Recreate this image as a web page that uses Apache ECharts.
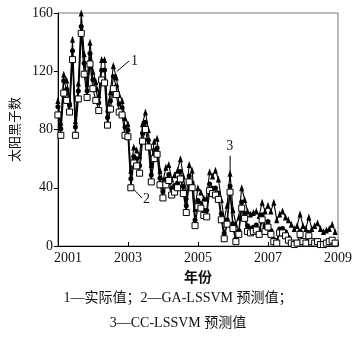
<!DOCTYPE html>
<html>
<head>
<meta charset="utf-8">
<script src="https://cdn.jsdelivr.net/npm/echarts@6/dist/echarts.min.js"></script>
<style>
html,body{margin:0;padding:0;background:#fff;}
#canvas_main{width:356px;height:339px;}
</style>
</head>
<body>
<div id="canvas_main"></div>
<script>
// monthly values, Jan 2001 .. Dec 2008
var startYear = 2001;
var yearTicks = [2001, 2003, 2005, 2007, 2009];

var actual = [
	95.6, 80.6, 113.5, 107.7, 96.6, 134.0, 81.8, 106.4, 150.7, 125.5, 106.5, 132.2,
	114.1, 107.4, 98.4, 120.7, 120.8, 88.3, 99.6, 116.4, 109.6, 97.5, 95.0, 81.6,
	79.5, 46.2, 61.5, 60.0, 55.2, 77.4, 85.0, 72.7, 48.8, 65.5, 67.3, 46.5,
	37.3, 45.8, 49.1, 39.3, 41.5, 43.2, 51.1, 40.9, 27.7, 48.0, 43.5, 17.9,
	31.3, 29.2, 24.5, 24.4, 42.6, 39.6, 39.9, 36.4, 22.1, 8.5, 18.0, 41.2,
	15.3, 4.9, 10.6, 30.2, 22.3, 13.9, 12.2, 12.9, 14.4, 10.5, 21.4, 13.6,
	16.8, 10.7, 4.5, 3.4, 11.7, 12.1, 9.7, 6.0, 2.4, 0.9, 1.7, 10.1,
	3.3, 2.1, 9.3, 2.9, 3.2, 3.4, 0.8, 0.5, 1.1, 2.9, 4.1, 0.8
];
var gaLssvm = [
	90, 76, 105, 100, 92, 128, 76, 101, 146, 118, 102, 125,
	108, 100, 93, 114, 112, 83, 94, 108, 104, 92, 90, 76,
	75, 40, 57, 55, 50, 72, 80, 68, 44, 60, 63, 42,
	33, 42, 45, 35, 37, 40, 46, 36, 23, 44, 40, 14,
	27, 26, 21, 20, 38, 36, 35, 32, 18, 5, 15, 37,
	12, 3, 8, 26, 19, 10, 9, 10, 11, 8, 18, 10,
	13, 8, 3, 2, 9, 9, 7, 4, 2, 1, 2, 8,
	3, 2, 7, 3, 2, 3, 1, 1, 2, 3, 4, 2
];
var ccLssvm = [
	100, 85, 118, 114, 100, 142, 86, 112, 160, 132, 112, 140,
	120, 113, 104, 128, 128, 94, 106, 124, 116, 104, 100, 88,
	84, 52, 68, 66, 62, 84, 92, 80, 56, 72, 74, 52,
	44, 54, 56, 46, 49, 52, 60, 48, 34, 56, 52, 26,
	40, 37, 33, 33, 51, 48, 52, 46, 32, 18, 28, 50,
	25, 15, 20, 40, 32, 24, 22, 23, 24, 21, 30, 24,
	28, 24, 30, 18, 22, 24, 20, 18, 15, 12, 14, 22,
	14, 12, 20, 12, 14, 16, 12, 10, 11, 12, 15, 10
];

function toPoints(arr){
	var pts = [];
	for (var i = 0; i < arr.length; i++) {
		pts.push([startYear + i / 12, arr[i]]);
	}
	return pts;
}

var myChart = echarts.init(document.getElementById('canvas_main'));
var serif = '"Liberation Serif", "Times New Roman", serif';
var cjk = '"Noto Sans CJK SC", sans-serif';
var mixed = '"Liberation Serif", "Noto Sans CJK SC", serif';

var option = {
	animation: false,
	grid: {
		left: 52, right: 18, top: 13, bottom: 93,
		show: true, borderColor: '#777', borderWidth: 1
	},
	xAxis: {
		type: 'value',
		min: 2001, max: 2009, interval: 2,
		name: '年份',
		nameLocation: 'middle',
		nameGap: 24,
		nameTextStyle: { fontFamily: cjk, fontSize: 14, fontWeight: 'bold', color: '#111' },
		axisLine: { lineStyle: { color: '#000', width: 1 } },
		axisTick: { inside: true, length: 4, lineStyle: { color: '#000' } },
		splitLine: { show: false },
		axisLabel: {
			fontFamily: serif, fontSize: 14, color: '#111', margin: 5,
			formatter: function (v) {
				// first year label sits a bit right of its tick
				return v === yearTicks[0] ? '{first|' + v + '}' : String(v);
			},
			rich: {
				first: { fontFamily: serif, fontSize: 14, color: '#111', padding: [0, 0, 0, 20] }
			}
		}
	},
	yAxis: {
		type: 'value',
		min: 0, max: 160, interval: 40,
		name: '太阳黑子数',
		nameLocation: 'middle',
		nameGap: 30,
		nameTextStyle: { fontFamily: cjk, fontSize: 13, color: '#111' },
		axisLine: { show: true, lineStyle: { color: '#000', width: 1 } },
		axisTick: { show: true, inside: false, length: 4, lineStyle: { color: '#000' } },
		splitLine: { show: false },
		axisLabel: { fontFamily: serif, fontSize: 14, color: '#111', margin: 5 }
	},
	series: [
		{
			name: 'CC-LSSVM',
			type: 'line',
			data: toPoints(ccLssvm),
			symbol: 'triangle',
			symbolSize: [5, 7],
			lineStyle: { color: '#000', width: 1.1 },
			itemStyle: { color: '#000' },
			z: 2
		},
		{
			name: '实际值',
			type: 'line',
			data: toPoints(actual),
			symbol: 'circle',
			symbolSize: 5,
			lineStyle: { color: '#000', width: 1.1 },
			itemStyle: { color: '#000' },
			z: 3
		},
		{
			name: 'GA-LSSVM',
			type: 'line',
			data: toPoints(gaLssvm),
			symbol: 'rect',
			symbolSize: 6,
			lineStyle: { color: '#000', width: 1.1 },
			itemStyle: { color: '#fff', borderColor: '#000', borderWidth: 1 },
			z: 4
		}
	],
	graphic: [
		{
			type: 'text', left: 'center', top: 291,
			style: { text: '1—实际值；2—GA-LSSVM 预测值；', font: '14px ' + mixed, fill: '#111' }
		},
		{
			type: 'text', left: 'center', top: 316,
			style: { text: '3—CC-LSSVM 预测值', font: '14px ' + mixed, fill: '#111' }
		}
	]
};
myChart.setOption(option);

// series labels 1, 2, 3 with leader lines, placed in data space
function px(x, y){ return myChart.convertToPixel({ gridIndex: 0 }, [x, y]); }
var a1 = px(2002.69, 120), b1 = px(2003.03, 127);
var a2 = px(2003.12, 40), b2 = px(2003.4, 33);
var a3 = px(2005.92, 44), b3 = px(2005.92, 62);
myChart.setOption({
	graphic: option.graphic.concat([
		{ type: 'line', shape: { x1: a1[0], y1: a1[1], x2: b1[0], y2: b1[1] }, style: { stroke: '#000', lineWidth: 1 } },
		{ type: 'text', x: b1[0] + 2, y: b1[1] - 7, style: { text: '1', font: '14px ' + serif, fill: '#111' } },
		{ type: 'line', shape: { x1: a2[0], y1: a2[1], x2: b2[0], y2: b2[1] }, style: { stroke: '#000', lineWidth: 1 } },
		{ type: 'text', x: b2[0] + 1, y: b2[1] - 6, style: { text: '2', font: '14px ' + serif, fill: '#111' } },
		{ type: 'line', shape: { x1: a3[0], y1: a3[1], x2: b3[0], y2: b3[1] }, style: { stroke: '#000', lineWidth: 1 } },
		{ type: 'text', x: b3[0] - 4, y: b3[1] - 16, style: { text: '3', font: '14px ' + serif, fill: '#111' } }
	])
});
</script>
</body>
</html>
